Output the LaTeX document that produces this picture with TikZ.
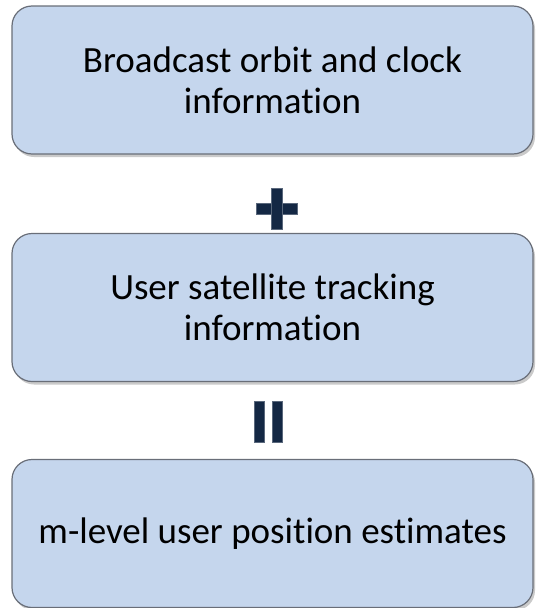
\documentclass[tikz,border=0pt]{standalone}
\usepackage{fontspec}
\setmainfont{Carlito}[Ligatures=NoCommon]
\usetikzlibrary{shadows}
\definecolor{boxfill}{RGB}{197,214,237}
\definecolor{boxline}{RGB}{105,110,120}
\definecolor{signcol}{RGB}{20,40,68}
\tikzset{
  infobox/.style={draw=boxline, line width=1.2pt, fill=boxfill,
    rounded corners=20pt, minimum width=521pt, minimum height=148pt,
    align=center, font=\fontsize{37}{41}\selectfont, text=black,
    drop shadow={shadow xshift=2pt, shadow yshift=-3pt, opacity=0.35, fill=black!60}},
  sign/.style={fill=signcol, draw=signcol!70!white, line width=0.4pt}
}
\begin{document}
\begin{tikzpicture}[x=1pt, y=-1pt]
  \useasboundingbox (0,0) rectangle (537,608);
  % the three stages
  \node[infobox] (orbit) at (272.5,80) {Broadcast orbit and clock\\information};
  \node[infobox] (track) at (272.5,307.5) {User satellite tracking\\information};
  \node[infobox] (pos)   at (272.5,533.5) {m-level user position estimates};
  % plus sign between the first two boxes
  \path[sign] (256,203) rectangle (297,214);
  \path[sign] (271,188) rectangle (282,229);
  % equals sign (upright bars) before the result
  \path[sign] (254,401) rectangle (264,442);
  \path[sign] (272,401) rectangle (282,442);
\end{tikzpicture}
\end{document}
